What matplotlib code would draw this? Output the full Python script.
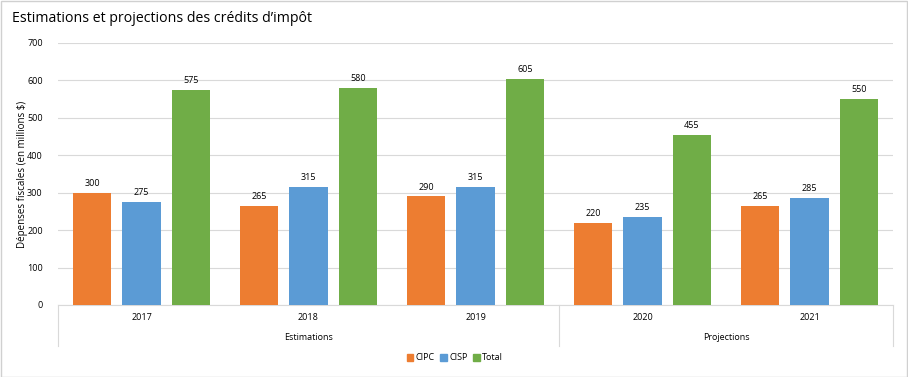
import matplotlib

matplotlib.use("Agg")
import matplotlib.pyplot as plt
import numpy as np
from matplotlib.patches import Patch

years = ["2017", "2018", "2019", "2020", "2021"]
groups = ["Estimations", "Projections"]
group_sizes = [3, 2]
series = ["CIPC", "CISP", "Total"]
cipc = [300, 265, 290, 220, 265]
cisp = [275, 315, 315, 235, 285]
total = [575, 580, 605, 455, 550]

_ORANGE = "#ED7D31"
_BLUE = "#5B9BD5"
_GREEN = "#70AD47"
_GRID = "#D9D9D9"

plt.rcParams.update({"font.family": ["Open Sans", "DejaVu Sans"]})

W, H = 908, 377
fig = plt.figure(figsize=(W / 100, H / 100), dpi=100)
fig.patches.append(plt.Rectangle((0.5 / W, 0.5 / H), 1 - 1.5 / W, 1 - 1.5 / H,
                                 transform=fig.transFigure, fill=False,
                                 edgecolor="#D0D0D0", linewidth=1))

x0, x1, ytop, ybot = 58, 893, 43, 305
ax = fig.add_axes([x0 / W, 1 - ybot / H, (x1 - x0) / W, (ybot - ytop) / H])

x = np.arange(len(years))
bw = 0.23
step = 0.295
for i, (vals, col) in enumerate(zip([cipc, cisp, total], [_ORANGE, _BLUE, _GREEN])):
    pos = x + (i - 1) * step
    ax.bar(pos, vals, width=bw, color=col, zorder=3)
    for p, v in zip(pos, vals):
        ax.annotate(str(v), (p, v), textcoords="offset points", xytext=(0, 3.5),
                    ha="center", va="bottom", fontsize=6.5, color="black")

ax.set_xlim(-0.5, len(years) - 0.5)
ax.set_ylim(0, 700)
ax.set_yticks(range(0, 701, 100))
ax.tick_params(axis="y", length=0, labelsize=6.5, labelcolor="black", pad=11)
ax.set_xticks([])
ax.yaxis.grid(True, color=_GRID, linewidth=0.8, zorder=0)
for s in ["top", "right", "left"]:
    ax.spines[s].set_visible(False)
ax.spines["bottom"].set_color(_GRID)
ax.set_ylabel("Dépenses fiscales (en millions $)", fontsize=7, color="black")
ax.yaxis.set_label_coords((28 - x0) / (x1 - x0), 0.5)

# multi-level category axis
trans = ax.get_xaxis_transform()
px = 1 / (ybot - ytop)
for xi, yr in zip(x, years):
    ax.text(xi, -13 * px, yr, transform=trans, ha="center", va="center", fontsize=6.5)
start = 0
bounds = [-0.5]
for g, n in zip(groups, group_sizes):
    mid = start + (n - 1) / 2
    ax.text(mid, -33 * px, g, transform=trans, ha="center", va="center", fontsize=6.5)
    start += n
    bounds.append(start - 0.5)
for b in bounds:
    ax.plot([b, b], [0, -41 * px], transform=trans, color=_GRID, linewidth=0.8,
            clip_on=False)

fig.text(12 / W, 1 - 18 / H, "Estimations et projections des crédits d’impôt",
         fontsize=10.2, ha="left", va="center", color="black")

handles = [Patch(color=c) for c in [_ORANGE, _BLUE, _GREEN]]
fig.legend(handles, series, loc="center", bbox_to_anchor=(455 / W, 1 - 358 / H),
           ncol=3, frameon=False, fontsize=6.5, handlelength=0.7, handleheight=0.7,
           handletextpad=0.3, columnspacing=0.6)

fig.savefig("out.png", dpi=100)
